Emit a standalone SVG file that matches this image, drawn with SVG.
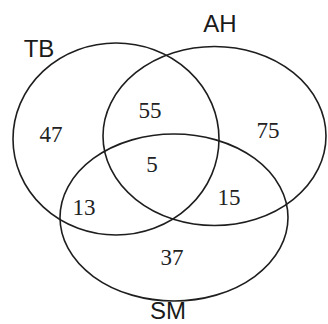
<svg xmlns="http://www.w3.org/2000/svg" width="328" height="324" viewBox="0 0 328 324">
<style>
.set{fill:none;stroke:#1e1e1e;stroke-width:1.6}
.lbl{font-family:"Liberation Sans",Arial,sans-serif;font-size:24px;fill:#1a1a1a;text-anchor:middle}
.num{font-family:"Liberation Serif","Times New Roman",serif;font-size:23px;fill:#222;text-anchor:middle}
</style>
<rect width="328" height="324" fill="#fff"/>
<g id="connectors"></g>
<g id="TB">
<ellipse class="set" cx="116" cy="139" rx="103" ry="96"/>
<text class="lbl" x="39" y="57">TB</text>
</g>
<g id="AH">
<ellipse class="set" cx="214.5" cy="136" rx="111.5" ry="89.5"/>
<text class="lbl" x="220" y="32">AH</text>
</g>
<g id="SM">
<ellipse class="set" cx="174" cy="217.5" rx="114" ry="83.5"/>
<text class="lbl" x="168" y="319">SM</text>
</g>
<g id="counts">
<text class="num" x="51" y="142">47</text>
<text class="num" x="150" y="118">55</text>
<text class="num" x="268" y="138">75</text>
<text class="num" x="152" y="172">5</text>
<text class="num" x="84" y="215">13</text>
<text class="num" x="229" y="205">15</text>
<text class="num" x="172" y="265">37</text>
</g>
</svg>
